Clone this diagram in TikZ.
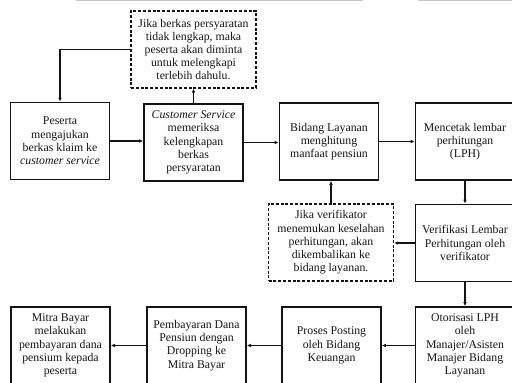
\documentclass[tikz,border=0pt]{standalone}
\usepackage{fontspec}
\setmainfont{Liberation Serif}
\usetikzlibrary{arrows.meta}
\definecolor{ink}{HTML}{141414}
\definecolor{rule}{HTML}{C8C8C8}
\tikzset{>={Latex[length=4pt,width=3.6pt]},
  stepbox/.style={draw=ink,line width=1.6pt,minimum width=99pt,minimum height=77pt,
    align=center,inner sep=2pt,text=ink,font=\fontsize{11.8}{13.2}\selectfont},
  notebox/.style={stepbox,line width=1.2pt,dash pattern=on 3pt off 1.8pt,minimum width=125pt},
  flow/.style={draw=ink,line width=1.2pt,->}}

\begin{document}
\begin{tikzpicture}[x=1pt,y=-1pt]
  \useasboundingbox (0,0) rectangle (512,383);
  \clip (0,0) rectangle (512,383);
  \draw[rule,line width=1.5pt] (76,0.5) -- (363,0.5);
  \draw[rule,line width=1.5pt] (418,0.5) -- (512,0.5);
  % first row
  \node[stepbox] (peserta) at (60,141) {Peserta\\mengajukan\\berkas klaim ke\\\textit{customer service}};
  \node[stepbox] (cs) at (193.5,142.5) {\textit{Customer Service}\\memeriksa\\kelengkapan\\berkas\\persyaratan};
  \node[stepbox] (hitung) at (329,141.5) {Bidang Layanan\\menghitung\\manfaat pensiun};
  \node[stepbox] (cetak) at (465,141.5) {Mencetak lembar\\perhitungan\\(LPH)};
  \node[notebox] (lengkap) at (193.5,49.5) {Jika berkas persyaratan\\tidak lengkap, maka\\peserta akan diminta\\untuk melengkapi\\terlebih dahulu.};
  % second row
  \node[stepbox] (verif) at (465,243) {Verifikasi Lembar\\Perhitungan oleh\\verifikator};
  \node[notebox] (salah) at (331,242.5) {Jika verifikator\\menemukan keselahan\\perhitungan, akan\\dikembalikan ke\\bidang layanan.};
  % third row
  \node[stepbox] (otor) at (465,345.5) {Otorisasi LPH\\oleh\\Manajer/Asisten\\Manajer Bidang\\Layanan};
  \node[stepbox] (posting) at (331.5,345.5) {Proses Posting\\oleh Bidang\\Keuangan};
  \node[stepbox] (bayar) at (196.5,345.5) {Pembayaran Dana\\Pensiun dengan\\Dropping ke\\Mitra Bayar};
  \node[stepbox] (mitra) at (60.5,345.5) {Mitra Bayar\\melakukan\\pembayaran dana\\pensium kepada\\peserta};
  % connectors
  \draw[flow] (peserta.east) -- (peserta.east -| cs.west);
  \draw[flow] (cs.east) -- (cs.east -| hitung.west);
  \draw[flow] (hitung.east) -- (cetak.west);
  \draw[flow] (cs.north) -- (lengkap.south);
  \draw[flow] (lengkap.west) -| (peserta.north);
  \draw[flow] (cetak.south) -- (verif.north);
  \draw[flow] (verif.west) -- (verif.west -| salah.east);
  \draw[flow] (salah.north) -- (salah.north |- hitung.south);
  \draw[flow] (verif.south) -- (otor.north);
  \draw[flow] (otor.west) -- (posting.east);
  \draw[flow] (posting.west) -- (bayar.east);
  \draw[flow] (bayar.west) -- (mitra.east);
\end{tikzpicture}
\end{document}
